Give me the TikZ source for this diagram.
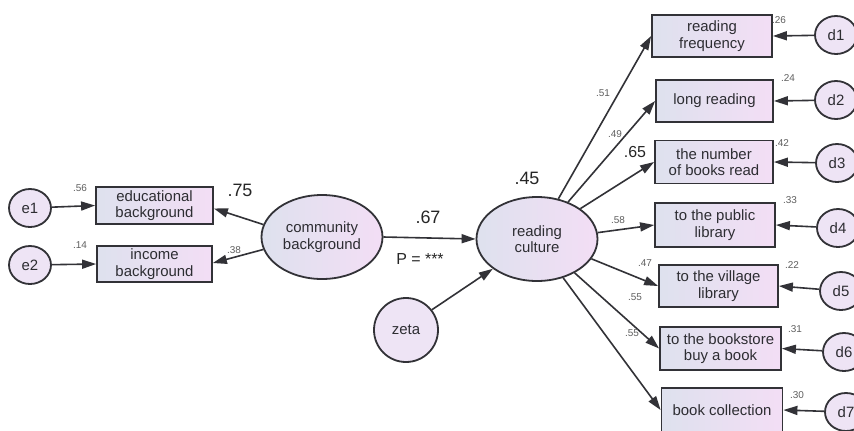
\documentclass[tikz,border=0pt]{standalone}
\usepackage{fontspec}
\setmainfont{Liberation Sans}
\usetikzlibrary{arrows.meta,shapes.geometric}
\definecolor{bordc}{RGB}{50,50,55}
\definecolor{fillL}{RGB}{222,225,238}
\definecolor{fillR}{RGB}{243,222,245}
\definecolor{circ}{RGB}{238,228,245}
\definecolor{lbl}{RGB}{95,95,95}
\definecolor{txt}{RGB}{45,45,50}
\begin{document}
\begin{tikzpicture}[x=1bp,y=-1bp,
 obs/.style={draw=bordc,line width=1.8bp,left color=fillL,right color=fillR,minimum height=42bp,inner sep=1bp,align=center,font=\fontsize{15}{16.5}\selectfont,text=txt},
 lat/.style={ellipse,draw=bordc,line width=1.8bp,left color=fillL,right color=fillR,minimum width=121bp,minimum height=84bp,inner sep=0pt,align=center,font=\fontsize{15}{16.5}\selectfont,text=txt},
 err/.style={ellipse,draw=bordc,line width=1.8bp,fill=circ,minimum width=42bp,minimum height=38bp,inner sep=0pt,font=\fontsize{15}{16.5}\selectfont,text=txt},
 arr/.style={-{Triangle[length=14bp,width=9bp]},line width=1.6bp,draw=bordc},
 sm/.style={font=\fontsize{10}{12}\selectfont,text=lbl,inner sep=0pt},
 big/.style={font=\fontsize{18}{20}\selectfont,text=black!85,inner sep=0pt}]
\useasboundingbox (0,0) rectangle (854,430);
\fill[white] (0,0) rectangle (854,430);
% left side
\node[err] (e1) at (30,208) {e1};
\node[err] (e2) at (30,265) {e2};
\node[obs,minimum width=117bp,minimum height=37bp] (edu) at (154.5,205.5) {educational\\background};
\node[obs,minimum width=115bp,minimum height=36bp] (inc) at (154.5,264) {income\\background};
\node[lat] (cb) at (322,237) {community\\background};
\node[lat] (rc) at (537,239) {reading\\culture};
\node[err,minimum width=64bp,minimum height=64bp] (zeta) at (406,330) {zeta};
% right boxes
\node[obs,minimum width=120bp] (rf) at (712,36) {reading\\frequency};
\node[obs,minimum width=117bp] (lr) at (714.5,101) {long reading};
\node[obs,minimum width=118bp,minimum height=43bp] (nb) at (714,162) {the number\\of books read};
\node[obs,minimum width=120bp,minimum height=44bp] (pl) at (715,225) {to the public\\library};
\node[obs,minimum width=119bp] (vl) at (718.5,286) {to the village\\library};
\node[obs,minimum width=121bp,minimum height=43bp] (bs) at (720.5,348.5) {to the bookstore\\buy a book};
\node[obs,minimum width=121bp,minimum height=44bp] (bc) at (722,410) {book collection};
% d circles
\node[err] (d1) at (836,35) {d1};
\node[err] (d2) at (836,100) {d2};
\node[err] (d3) at (837,163) {d3};
\node[err] (d4) at (838,228) {d4};
\node[err] (d5) at (841,291) {d5};
\node[err] (d6) at (844,352) {d6};
\node[err] (d7) at (846,412) {d7};
% arrows
\draw[arr] (e1) -- (edu.west);
\draw[arr] (e2) -- (inc.west);
\draw[arr] (cb.168) -- ([yshift=-3bp]edu.east);
\draw[arr] (cb.192) -- ([yshift=1bp]inc.east);
\draw[arr] (cb.east) -- (rc.west);
\draw[arr] (zeta.38) -- (rc.214);
\draw[arr] (rc.62) -- (rf.west);
\draw[arr] (rc.50) -- (lr.west);
\draw[arr] (rc.35) -- (nb.west);
\draw[arr] (rc.6) -- (pl.west);
\draw[arr] (rc.-20) -- (vl.west);
\draw[arr] (rc.-42) -- (bs.west);
\draw[arr] (rc.-56) -- (bc.west);
\draw[arr] (d1) -- (rf.east);
\draw[arr] (d2) -- (lr.east);
\draw[arr] (d3) -- (nb.east);
\draw[arr] (d4) -- (pl.east);
\draw[arr] (d5) -- (vl.east);
\draw[arr] (d6) -- (bs.east);
\draw[arr] (d7) -- (bc.east);
% labels
\node[sm] (l56) at (80,188) {.56};
\node[sm] (l14) at (80,245) {.14};
\node[sm] (l38) at (234,250) {.38};
\node[big] (l75) at (240,190) {.75};
\node[big] (l67) at (428,217) {.67};
\node[font=\fontsize{16}{18}\selectfont,text=black!85,inner sep=0pt] (lp) at (420,259) {P = ***};
\node[big] (l45) at (527,178) {.45};
\node[sm] (l51) at (603,93) {.51};
\node[sm] (l49) at (615,134) {.49};
\node[font=\fontsize{16}{18}\selectfont,text=black!85,inner sep=0pt] (l65) at (635,152) {.65};
\node[sm] (l58) at (618,220) {.58};
\node[sm] (l47) at (645,263) {.47};
\node[sm] (l55a) at (635,297) {.55};
\node[sm] (l55b) at (632,333) {.55};
\node[sm] (l26) at (779,20) {.26};
\node[sm] (l24) at (788,78) {.24};
\node[sm] (l42) at (782,143) {.42};
\node[sm] (l33) at (790,200) {.33};
\node[sm] (l22) at (792,265) {.22};
\node[sm] (l31) at (795,329) {.31};
\node[sm] (l30) at (797,395) {.30};
\end{tikzpicture}
\end{document}
